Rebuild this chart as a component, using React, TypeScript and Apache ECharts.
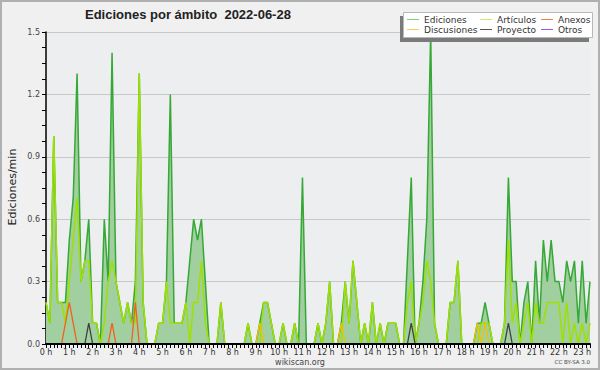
import React, { useEffect, useRef } from "react";
import * as echarts from "echarts";

// 10-minute steps from 00:00 to 23:20
const categories: string[] = Array.from({ length: 141 }, (_, i) =>
  `${Math.floor(i / 6)}:${String((i % 6) * 10).padStart(2, "0")}`
);

const yTicks = [0, 0.3, 0.6, 0.9, 1.2, 1.5];

const ediciones = [
  0.2, 0.1, 1.0, 0.2, 0.2, 0.2, 0.5, 0.7, 1.3, 0.3,
  0.4, 0.6, 0.1, 0.1, 0, 0.6, 0.3, 1.4, 0.3, 0.2,
  0.1, 0.2, 0.1, 0.3, 1.3, 0.2, 0, 0, 0, 0.1,
  0.1, 0.3, 1.2, 0.1, 0.1, 0.1, 0.2, 0.4, 0.6, 0.5,
  0.6, 0.3, 0, 0, 0, 0.2, 0, 0, 0, 0,
  0, 0, 0.1, 0, 0, 0.1, 0.2, 0.2, 0.1, 0,
  0, 0.1, 0, 0, 0.1, 0, 0.8, 0, 0, 0,
  0.1, 0, 0.1, 0.3, 0, 0, 0.1, 0.3, 0.1, 0.4,
  0.2, 0, 0.1, 0, 0.2, 0, 0.1, 0, 0.1, 0.1,
  0.1, 0, 0, 0.4, 0.8, 0, 0.1, 0.3, 0.6, 1.5,
  0.1, 0, 0, 0, 0.2, 0.2, 0.4, 0, 0, 0,
  0, 0.1, 0.1, 0.2, 0.1, 0, 0, 0, 0.1, 0.8,
  0.3, 0.3, 0, 0.2, 0.3, 0, 0.4, 0.1, 0.5, 0.3,
  0.5, 0.3, 0.3, 0.2, 0.4, 0.3, 0.4, 0.1, 0.4, 0.1,
  0.3,
];

const articulos = [
  0.2, 0.1, 1.0, 0.2, 0.2, 0.1, 0.3, 0.5, 0.7, 0.3,
  0.4, 0.4, 0.1, 0.1, 0, 0.1, 0.3, 0.4, 0.3, 0.2,
  0.1, 0.2, 0.1, 0.1, 1.3, 0.2, 0, 0, 0, 0.1,
  0.1, 0.3, 0.1, 0.1, 0.1, 0.1, 0.2, 0, 0.2, 0.2,
  0.4, 0.1, 0, 0, 0, 0.2, 0, 0, 0, 0,
  0, 0, 0.1, 0, 0, 0, 0.2, 0.2, 0.1, 0,
  0, 0.1, 0, 0, 0.1, 0, 0, 0, 0, 0,
  0.1, 0, 0.1, 0.3, 0, 0, 0, 0.3, 0.1, 0.4,
  0.2, 0, 0.1, 0, 0.2, 0, 0.1, 0, 0.1, 0.1,
  0.1, 0, 0, 0.2, 0.3, 0, 0.1, 0.2, 0.4, 0.3,
  0.1, 0, 0, 0, 0.2, 0.2, 0.4, 0, 0, 0,
  0, 0, 0.1, 0.1, 0.1, 0, 0, 0, 0.1, 0.5,
  0.1, 0.2, 0, 0.1, 0.2, 0, 0.2, 0.1, 0.1, 0.2,
  0.2, 0.2, 0.2, 0, 0.2, 0, 0.1, 0, 0.1, 0,
  0.1,
];

const anexos = [
  0, 0, 0, 0, 0, 0.1, 0.2, 0.1, 0, 0,
  0, 0, 0, 0, 0, 0, 0, 0.1, 0, 0,
  0, 0, 0, 0.2, 0, 0, 0, 0, 0, 0,
  0, 0, 0, 0, 0, 0, 0, 0, 0, 0,
  0, 0, 0, 0, 0, 0, 0, 0, 0, 0,
  0, 0, 0, 0, 0, 0, 0, 0, 0, 0,
  0, 0, 0, 0, 0, 0, 0, 0, 0, 0,
  0, 0, 0, 0, 0, 0, 0, 0, 0, 0,
  0, 0, 0, 0, 0, 0, 0, 0, 0, 0,
  0, 0, 0, 0, 0, 0, 0, 0, 0, 0,
  0, 0, 0, 0, 0, 0, 0, 0, 0, 0,
  0, 0, 0, 0, 0, 0, 0, 0, 0, 0,
  0, 0, 0, 0, 0, 0, 0, 0, 0, 0,
  0, 0, 0, 0, 0, 0, 0, 0, 0, 0,
  0,
];

const discusiones = [
  0, 0, 0, 0, 0, 0, 0, 0, 0, 0,
  0, 0, 0, 0, 0, 0, 0, 0, 0, 0,
  0, 0, 0, 0, 0, 0, 0, 0, 0, 0,
  0, 0, 0, 0, 0, 0, 0, 0, 0, 0,
  0, 0, 0, 0, 0, 0, 0, 0, 0, 0,
  0, 0, 0, 0, 0, 0.1, 0, 0, 0, 0,
  0, 0, 0, 0, 0, 0, 0, 0, 0, 0,
  0, 0, 0, 0, 0, 0, 0.1, 0, 0, 0,
  0, 0, 0, 0, 0, 0, 0, 0, 0, 0,
  0, 0, 0, 0, 0, 0, 0, 0, 0, 0,
  0, 0, 0, 0, 0, 0, 0, 0, 0, 0,
  0, 0.1, 0, 0.1, 0, 0, 0, 0, 0, 0,
  0, 0, 0, 0, 0, 0, 0, 0, 0, 0,
  0, 0, 0, 0, 0, 0, 0, 0, 0, 0,
  0,
];

const proyecto = [
  0, 0, 0, 0, 0, 0, 0, 0, 0, 0,
  0, 0.1, 0, 0, 0, 0, 0, 0, 0, 0,
  0, 0, 0, 0, 0, 0, 0, 0, 0, 0,
  0, 0, 0, 0, 0, 0, 0, 0, 0, 0,
  0, 0, 0, 0, 0, 0, 0, 0, 0, 0,
  0, 0, 0, 0, 0, 0, 0, 0, 0, 0,
  0, 0, 0, 0, 0, 0, 0, 0, 0, 0,
  0, 0, 0, 0, 0, 0, 0, 0, 0, 0,
  0, 0, 0, 0, 0, 0, 0, 0, 0, 0,
  0, 0, 0, 0, 0.1, 0, 0, 0, 0, 0,
  0, 0, 0, 0, 0, 0, 0, 0, 0, 0,
  0, 0, 0, 0, 0, 0, 0, 0, 0, 0.1,
  0, 0, 0, 0, 0, 0, 0, 0, 0, 0,
  0, 0, 0, 0, 0, 0, 0, 0, 0, 0,
  0,
];

const otros = [
  0, 0, 0, 0, 0, 0, 0, 0, 0, 0,
  0, 0, 0, 0, 0, 0, 0, 0, 0, 0,
  0, 0, 0, 0, 0, 0, 0, 0, 0, 0,
  0, 0, 0, 0, 0, 0, 0, 0, 0, 0,
  0, 0, 0, 0, 0, 0, 0, 0, 0, 0,
  0, 0, 0, 0, 0, 0, 0, 0, 0, 0,
  0, 0, 0, 0, 0, 0, 0, 0, 0, 0,
  0, 0, 0, 0, 0, 0, 0, 0, 0, 0,
  0, 0, 0, 0, 0, 0, 0, 0, 0, 0,
  0, 0, 0, 0, 0, 0, 0, 0, 0, 0,
  0, 0, 0, 0, 0, 0, 0, 0, 0, 0,
  0, 0, 0, 0, 0, 0, 0, 0, 0, 0,
  0, 0, 0, 0, 0, 0, 0, 0, 0, 0,
  0, 0, 0, 0, 0, 0, 0, 0, 0, 0,
  0,
];

const titleText = "Ediciones por ámbito  2022-06-28";
const yAxisTitle = "Ediciones/min";

const seriesDefs = [
  { name: "Ediciones", data: ediciones, color: "#35a835", legend: "#80d080", width: 1.5, area: true },
  { name: "Artículos", data: articulos, color: "#9ee000", legend: "#c8ee70", width: 1.5, area: false },
  { name: "Anexos", data: anexos, color: "#f06020", legend: "#f08050", width: 1.3, area: false },
  { name: "Discusiones", data: discusiones, color: "#f0c000", legend: "#f5cc55", width: 1.3, area: false },
  { name: "Proyecto", data: proyecto, color: "#404040", legend: "#555555", width: 1.3, area: false },
  { name: "Otros", data: otros, color: "#9040e0", legend: "#a055e8", width: 1.3, area: false },
];

// legend grid: columns of [row1, row2]
const legendColumns = [
  ["Ediciones", "Discusiones"],
  ["Artículos", "Proyecto"],
  ["Anexos", "Otros"],
];

export default function App() {
  const ref = useRef<HTMLDivElement>(null);
  useEffect(() => {
    const chart = echarts.init(ref.current!, null, { renderer: "svg" });
    const font = "DejaVu Sans";
    const colX = [407, 480, 541];
    const rowY = [19.5, 29.5];
    const legendEls: any[] = [
      { type: "rect", shape: { x: 400, y: 16, width: 189, height: 26 }, style: { fill: "#7a7a7a" }, z: 100 },
      { type: "rect", shape: { x: 403.5, y: 12.5, width: 189, height: 25 }, style: { fill: "#ffffff", stroke: "#b8b8b8", lineWidth: 1 }, z: 101 },
    ];
    legendColumns.forEach((col, ci) => {
      col.forEach((name, ri) => {
        const def = seriesDefs.find((s) => s.name === name)!;
        legendEls.push({
          type: "line",
          shape: { x1: colX[ci], y1: rowY[ri], x2: colX[ci] + 12, y2: rowY[ri] },
          style: { stroke: def.legend, lineWidth: 1 },
          z: 102,
        });
        legendEls.push({
          type: "text",
          x: colX[ci] + 17,
          y: rowY[ri],
          style: { text: name, font: `9px '${font}'`, fill: "#333", align: "left", verticalAlign: "middle" },
          z: 102,
        });
      });
    });

    chart.setOption({
      animation: false,
      backgroundColor: "#f0f0f0",
      grid: { left: 46, right: 10, top: 32, bottom: 26, show: true, backgroundColor: "#eceef0", borderWidth: 0 },
      xAxis: {
        type: "category",
        data: categories,
        boundaryGap: false,
        z: 10,
        axisLine: { lineStyle: { color: "#000", width: 2 } },
        axisTick: { show: true, interval: 0, length: 4, lineStyle: { color: "#000", width: 1 } },
        axisLabel: {
          interval: 5,
          margin: 4,
          fontSize: 8,
          fontFamily: font,
          color: "#333",
          formatter: (_v: string, idx: number) => `${idx / 6} h`,
        },
        splitLine: { show: false },
      },
      yAxis: {
        type: "value",
        min: yTicks[0],
        max: yTicks[yTicks.length - 1],
        interval: 0.3,
        axisLine: { show: true, lineStyle: { color: "#000", width: 1.5 } },
        axisTick: { show: true, length: 4, lineStyle: { color: "#000" } },
        minorTick: { show: true, splitNumber: 4, length: 4, lineStyle: { color: "#000" } },
        axisLabel: { fontSize: 8, fontFamily: font, color: "#444", margin: 6, formatter: (v: number) => v.toFixed(1) },
        splitLine: { show: true, lineStyle: { color: "#c8c8c8", width: 1 } },
      },
      series: seriesDefs.map((s, i) => ({
        name: s.name,
        type: "line",
        data: s.data,
        symbol: "none",
        z: 2 + i,
        lineStyle: { color: s.color, width: s.width },
        itemStyle: { color: s.color },
        areaStyle: s.area ? { color: "#a2cfa0", opacity: 1 } : undefined,
      })),
      graphic: [
        {
          type: "rect",
          shape: { x: 1, y: 1, width: 598, height: 368 },
          style: { fill: "none", stroke: "#b0b0b0", lineWidth: 2 },
          z: 200,
          silent: true,
        },
        {
          type: "text",
          x: 85,
          y: 14,
          style: { text: titleText, font: "bold 13px 'Liberation Sans'", fill: "#222", align: "left", verticalAlign: "middle" },
        },
        {
          type: "text",
          x: 12,
          y: 187,
          rotation: Math.PI / 2,
          style: { text: yAxisTitle, font: `11px '${font}'`, fill: "#222", align: "center", verticalAlign: "middle" },
        },
        {
          type: "text",
          x: 300,
          y: 362,
          style: { text: "wikiscan.org", font: `8px '${font}'`, fill: "#444", align: "center", verticalAlign: "middle" },
        },
        {
          type: "text",
          x: 590,
          y: 362,
          style: { text: "CC BY-SA 3.0", font: `5.5px '${font}'`, fill: "#444", align: "right", verticalAlign: "middle" },
        },
        ...legendEls,
      ],
    });
    return () => chart.dispose();
  }, []);
  return <div ref={ref} style={{ position: "fixed", left: 0, top: 0, width: 600, height: 370 }} />;
}
